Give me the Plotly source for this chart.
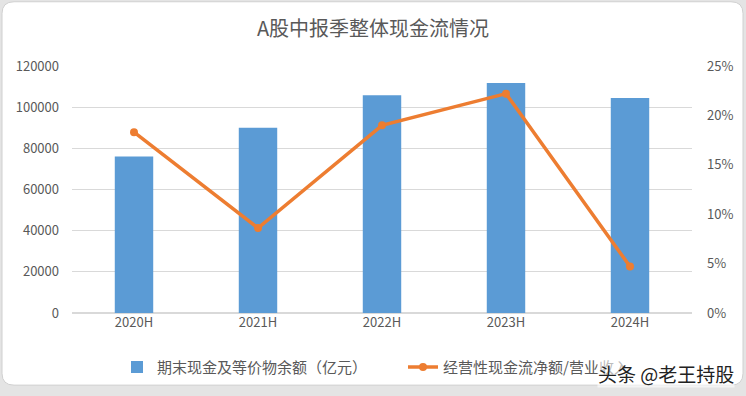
import plotly.graph_objects as go

categories = ["2020H", "2021H", "2022H", "2023H", "2024H"]
cash_balance = [76000, 90000, 105800, 111800, 104500]
ocf_ratio = [0.183, 0.086, 0.190, 0.222, 0.047]
y_ticks = [0, 20000, 40000, 60000, 80000, 100000, 120000]
y_labels = ["0", "20000", "40000", "60000", "80000", "100000", "120000"]
y2_ticks = [0, 0.05, 0.10, 0.15, 0.20, 0.25]
y2_labels = ["0%", "5%", "10%", "15%", "20%", "25%"]

W, H = 746, 396
L, R, T, B = 72, 54, 66, 80
pw, ph = W - L - R, H - T - B

def px(x):
    return (x - L) / pw

def py(y):
    return (H - B - y) / ph

FONT = "Noto Sans CJK SC, Microsoft YaHei, sans-serif"
GREY = "#595959"

fig = go.Figure()
fig.add_trace(go.Bar(
    x=categories, y=cash_balance, name="期末现金及等价物余额（亿元）",
    marker=dict(color="#5B9BD5", line=dict(width=0)), width=0.31, yaxis="y",
))
fig.add_trace(go.Scatter(
    x=categories, y=ocf_ratio, name="经营性现金流净额/营业收入",
    mode="lines+markers", line=dict(color="#ED7D31", width=3.5),
    marker=dict(color="#ED7D31", size=8), yaxis="y2",
))

# rounded white card
x0, x1, y0, y1 = px(2), px(743), py(389), py(1)
rx, ry = 12 / pw, 12 / ph
path = (f"M {x0+rx},{y1} L {x1-rx},{y1} Q {x1},{y1} {x1},{y1-ry} "
        f"L {x1},{y0+ry} Q {x1},{y0} {x1-rx},{y0} L {x0+rx},{y0} "
        f"Q {x0},{y0} {x0},{y0+ry} L {x0},{y1-ry} Q {x0},{y1} {x0+rx},{y1} Z")

fig.update_layout(
    width=W, height=H,
    margin=dict(l=L, r=R, t=T, b=B),
    paper_bgcolor="#e4e4e4", plot_bgcolor="rgba(0,0,0,0)",
    font=dict(family=FONT, color=GREY, size=13),
    title=dict(text="A股中报季整体现金流情况", x=0.5, xanchor="center",
               y=1 - 29 / H, yanchor="middle",
               font=dict(size=20, color=GREY, family=FONT)),
    shapes=[dict(type="path", path=path, xref="paper", yref="paper",
                 fillcolor="white", line=dict(color="#d0d0d0", width=1), layer="below")],
    xaxis=dict(showgrid=False, showline=False, ticks="", tickfont=dict(size=13, color=GREY)),
    yaxis=dict(range=[0, 120000], tickvals=y_ticks, ticktext=y_labels, showgrid=True,
               gridcolor="#d9d9d9", gridwidth=1, zeroline=True, zerolinecolor="#d9d9d9",
               showline=False, tickfont=dict(size=13, color=GREY), ticklabelstandoff=12),
    yaxis2=dict(range=[0, 0.25], tickvals=y2_ticks, ticktext=y2_labels, overlaying="y",
                side="right", showgrid=False, zeroline=False, showline=False,
                tickfont=dict(size=13, color=GREY), ticklabelstandoff=14),
    legend=dict(orientation="h", x=px(117), xanchor="left", y=py(371), yanchor="middle",
                font=dict(size=15, color=GREY), bgcolor="rgba(0,0,0,0)",
                entrywidth=241, itemwidth=30),
    showlegend=True,
    annotations=[dict(text="头条 @老王持股", x=px(666), y=py(377), xref="paper", yref="paper",
                      xanchor="center", yanchor="middle", showarrow=False,
                      bgcolor="rgba(255,255,255,0.6)", borderpad=0,
                      font=dict(size=19, color="#222222", family=FONT))],
)

fig.write_html("out.html", config={"displayModeBar": False},
               post_script="document.body.style.margin='0';document.body.style.overflow='hidden';")
